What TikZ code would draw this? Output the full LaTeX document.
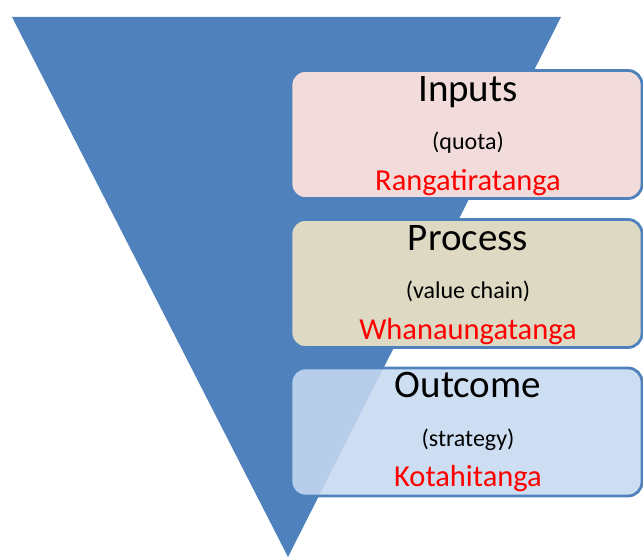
\documentclass[tikz,border=0pt]{standalone}
\usepackage{fontspec}
\setmainfont{Carlito}
\usepackage{tikz}
\usetikzlibrary{positioning}
\definecolor{funnel}{HTML}{4F81BD}
\definecolor{pinkbox}{HTML}{F2DCDB}
\definecolor{sandbox}{HTML}{DDD9C3}
\definecolor{bluebox}{HTML}{C6D9F1}
\tikzset{
x=1pt, y=-1pt, % one unit is one pixel of the picture, y runs downwards
stage/.style={draw=funnel, line width=2.8pt, rounded corners=14pt, minimum width=351pt, minimum height=128pt, inner sep=0pt}, % the three boxes
title/.style={anchor=base, font=\fontsize{39}{39}\selectfont}, % big black heading
note/.style={anchor=base, font=\fontsize{24}{24}\selectfont}, % small text in brackets
maori/.style={anchor=base, text=red, font=\fontsize{30.5}{30.5}\selectfont}, % red word at the bottom
}
\begin{document}
\begin{tikzpicture}
    \useasboundingbox (0,0) rectangle (643,559);
    \fill[funnel] (12,17) -- (561,17) -- (288,557) -- cycle;
    \node[stage, fill=pinkbox] (inputs) at (466.5,134.5) {};
    \node[stage, fill=sandbox] (process) at (466.5,283.5) {};
    \node[stage, fill=bluebox, fill opacity=0.88] (outcome) at (466.5,432) {};
    \node[title] (t1) at ([xshift=1.5pt, yshift=-32.5pt]inputs.north) {Inputs};
    \node[note] (n1) at ([xshift=1.5pt, yshift=-80pt]inputs.north) {(quota)};
    \node[maori] (m1) at ([xshift=1.5pt, yshift=-121pt]inputs.north) {Rangatiratanga};
    \node[title] (t2) at ([xshift=1.5pt, yshift=-32.5pt]process.north) {Process};
    \node[note] (n2) at ([xshift=1.5pt, yshift=-80pt]process.north) {(value chain)};
    \node[maori] (m2) at ([xshift=1.5pt, yshift=-121pt]process.north) {Whanaungatanga};
    \node[title] (t3) at ([xshift=1.5pt, yshift=-30.5pt]outcome.north) {Outcome};
    \node[note] (n3) at ([xshift=1.5pt, yshift=-80pt]outcome.north) {(strategy)};
    \node[maori] (m3) at ([xshift=1.5pt, yshift=-120pt]outcome.north) {Kotahitanga};
\end{tikzpicture}
\end{document}
